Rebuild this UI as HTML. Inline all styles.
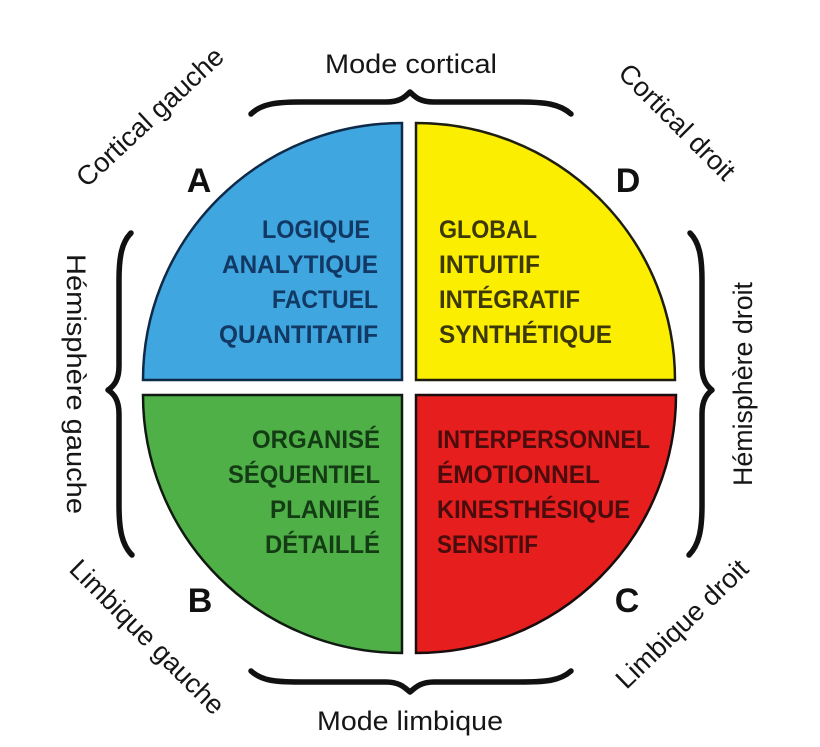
<!DOCTYPE html>
<html>
<head>
<meta charset="utf-8">
<style>
  html, body { margin: 0; padding: 0; background: #ffffff; }
  body { width: 820px; height: 747px; overflow: hidden; }
  svg { display: block; }
  .outer { font-family: "Liberation Sans", Arial, sans-serif; font-size: 27px; fill: #161616; }
  .letter { font-family: "Liberation Sans", Arial, sans-serif; font-size: 34px; font-weight: bold; fill: #111; }
  .q { font-family: "Liberation Sans", Arial, sans-serif; font-size: 25px; font-weight: bold; }
  .brace { fill: none; stroke: #111; stroke-width: 5.5; stroke-linecap: round; stroke-linejoin: round; }
</style>
</head>
<body>
<svg width="820" height="747" viewBox="0 0 820 747" xmlns="http://www.w3.org/2000/svg">
  <rect width="820" height="747" fill="#ffffff"/>

  <!-- Quadrants -->
  <path d="M402,380 L143,380 A259,257 0 0 1 402,123 Z" fill="#3fa6e0" stroke="#0f2a48" stroke-width="2.5"/>
  <path d="M416,380 L416,123 A259,257 0 0 1 675,380 Z" fill="#fbee00" stroke="#1e1e10" stroke-width="2.5"/>
  <path d="M402,395 L143,395 A259,258 0 0 0 402,653 Z" fill="#4fb048" stroke="#111a11" stroke-width="2.5"/>
  <path d="M416,395 L676,395 A260,258 0 0 1 416,653 Z" fill="#e61e1e" stroke="#1a0d0d" stroke-width="2.5"/>

  <!-- Blue text -->
  <g class="q" fill="#123864" text-anchor="end">
    <text x="370" y="238" textLength="108" lengthAdjust="spacingAndGlyphs">LOGIQUE</text>
    <text x="378" y="273" textLength="156" lengthAdjust="spacingAndGlyphs">ANALYTIQUE</text>
    <text x="378" y="308" textLength="106" lengthAdjust="spacingAndGlyphs">FACTUEL</text>
    <text x="378" y="343" textLength="159" lengthAdjust="spacingAndGlyphs">QUANTITATIF</text>
  </g>

  <!-- Yellow text -->
  <g class="q" fill="#3c3808">
    <text x="439" y="238" textLength="98" lengthAdjust="spacingAndGlyphs">GLOBAL</text>
    <text x="439" y="273" textLength="101" lengthAdjust="spacingAndGlyphs">INTUITIF</text>
    <text x="439" y="308" textLength="141" lengthAdjust="spacingAndGlyphs">INTÉGRATIF</text>
    <text x="439" y="343" textLength="173" lengthAdjust="spacingAndGlyphs">SYNTHÉTIQUE</text>
  </g>

  <!-- Green text -->
  <g class="q" fill="#143c14" text-anchor="end">
    <text x="380" y="448" textLength="128" lengthAdjust="spacingAndGlyphs">ORGANISÉ</text>
    <text x="380" y="483" textLength="152" lengthAdjust="spacingAndGlyphs">SÉQUENTIEL</text>
    <text x="380" y="518" textLength="110" lengthAdjust="spacingAndGlyphs">PLANIFIÉ</text>
    <text x="380" y="553" textLength="115" lengthAdjust="spacingAndGlyphs">DÉTAILLÉ</text>
  </g>

  <!-- Red text -->
  <g class="q" fill="#4a0c0c">
    <text x="437" y="448" textLength="213" lengthAdjust="spacingAndGlyphs">INTERPERSONNEL</text>
    <text x="437" y="483" textLength="163" lengthAdjust="spacingAndGlyphs">ÉMOTIONNEL</text>
    <text x="437" y="518" textLength="193" lengthAdjust="spacingAndGlyphs">KINESTHÉSIQUE</text>
    <text x="437" y="553" textLength="101" lengthAdjust="spacingAndGlyphs">SENSITIF</text>
  </g>

  <!-- Letters -->
  <g class="letter" text-anchor="middle">
    <text x="199" y="192">A</text>
    <text x="628" y="192">D</text>
    <text x="200" y="612">B</text>
    <text x="627" y="612">C</text>
  </g>

  <!-- Braces -->
  <path class="brace" d="M251,114 C261,104 276,102 300,102 L386,102 C400,102 405,97 410,92 C415,97 420,102 434,102 L520,102 C545,102 560,104 571,114"/>
  <path class="brace" d="M251,671 C262,681 276,682 300,682 L386,682 C400,682 405,688 410,692 C415,688 420,682 434,682 L520,682 C545,682 560,681 571,671"/>
  <path class="brace" d="M131,233 C122,242 119,256 119,280 L119,366 C119,380 114,386 108,390 C114,394 119,400 119,414 L119,505 C119,530 122,545 132,555"/>
  <path class="brace" d="M690,233 C699,242 702,256 702,280 L702,366 C702,380 707,386 712,390 C707,394 702,400 702,414 L702,505 C702,530 699,545 689,555"/>

  <!-- Outer labels -->
  <g class="outer" text-anchor="middle">
    <text x="411" y="73" textLength="172" lengthAdjust="spacingAndGlyphs">Mode cortical</text>
    <text x="410" y="730" textLength="186" lengthAdjust="spacingAndGlyphs">Mode limbique</text>
    <text transform="translate(67,384) rotate(90)" x="0" y="0" textLength="260" lengthAdjust="spacingAndGlyphs">Hémisphère gauche</text>
    <text transform="translate(752,384) rotate(-90)" x="0" y="0" textLength="204" lengthAdjust="spacingAndGlyphs">Hémisphère droit</text>
    <text transform="translate(150,117) rotate(-43)" x="0" y="9" textLength="190" lengthAdjust="spacingAndGlyphs">Cortical gauche</text>
    <text transform="translate(677,122) rotate(45)" x="0" y="9" textLength="152" lengthAdjust="spacingAndGlyphs">Cortical droit</text>
    <text transform="translate(147,637) rotate(45)" x="0" y="9" textLength="206" lengthAdjust="spacingAndGlyphs">Limbique gauche</text>
    <text transform="translate(682,624) rotate(-44)" x="0" y="9" textLength="172" lengthAdjust="spacingAndGlyphs">Limbique droit</text>
  </g>
</svg>
</body>
</html>
